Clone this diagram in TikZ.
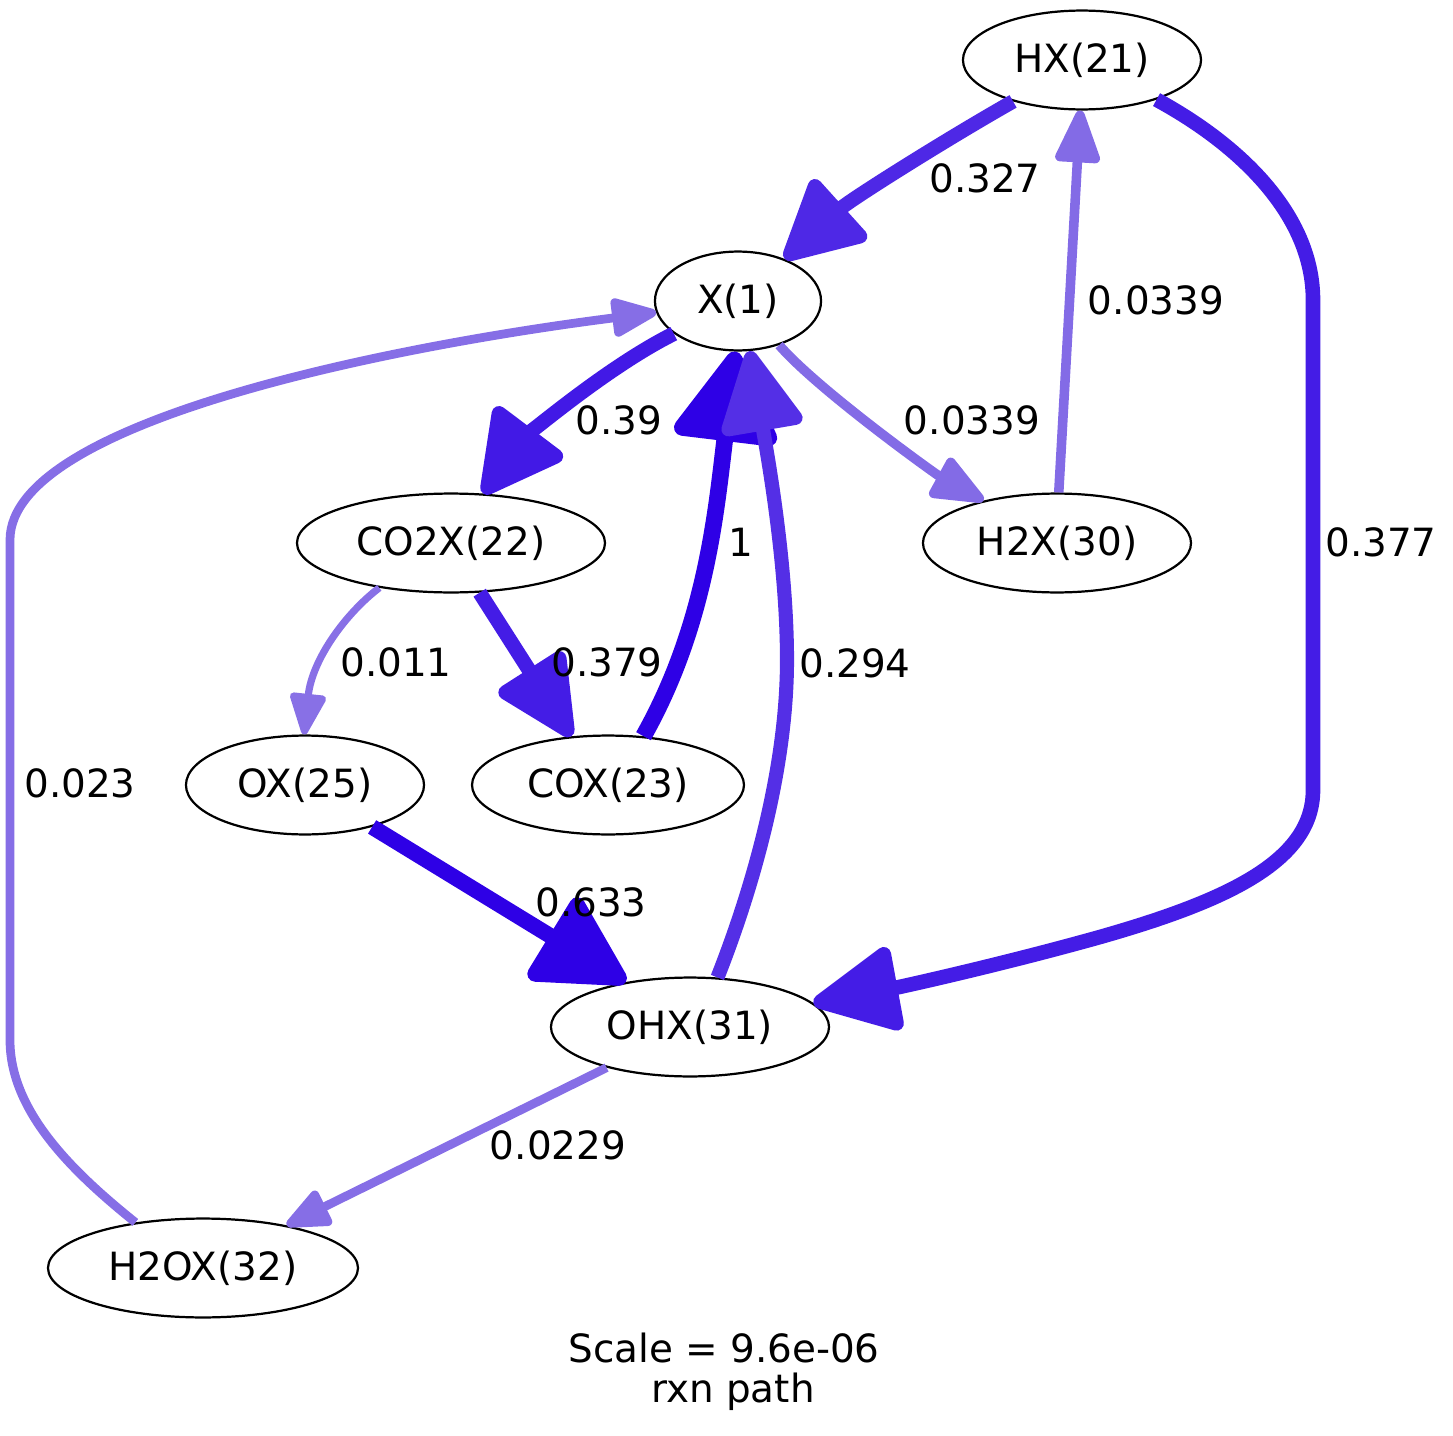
\documentclass[tikz,border=0pt]{standalone}
\usepackage{fontspec}
\setmainfont{DejaVu Sans}
\usetikzlibrary{arrows.meta,shapes.geometric}
\definecolor{cA}{HTML}{2E00E6}
\definecolor{cB}{HTML}{4219E6}
\definecolor{cC}{HTML}{441CE6}
\definecolor{cD}{HTML}{4E28E6}
\definecolor{cE}{HTML}{542FE6}
\definecolor{cF}{HTML}{836BE6}
\definecolor{cG}{HTML}{866EE6}
\definecolor{cH}{HTML}{8870E6}
\tikzset{
  sp/.style={draw=black, line width=0.8pt, ellipse, inner sep=0pt, minimum height=35.6pt},
  lbl/.style={inner sep=0pt, text=black},
  eOne/.style={draw=cA, line width=6pt, -{Triangle[length=35.5pt,width=40.3pt,round]}},
  eSix/.style={draw=cA, line width=5.655pt, -{Triangle[length=35.5pt,width=37pt,round]}},
  eThreeNine/.style={draw=cB, line width=5.289pt, -{Triangle[length=32.3pt,width=33pt,round]}},
  eThreeSevenSeven/.style={draw=cC, line width=5.264pt, -{Triangle[length=34.3pt,width=32.3pt,round]}},
  eThreeSevenNine/.style={draw=cC, line width=5.268pt, -{Triangle[length=32.3pt,width=29.8pt,round]}},
  eThreeTwoSeven/.style={draw=cD, line width=5.156pt, -{Triangle[length=31.4pt,width=31.4pt,round]}},
  eTwoNineFour/.style={draw=cE, line width=5.076pt, -{Triangle[length=32.3pt,width=31.4pt,round]}},
  eSmallA/.style={draw=cF, line width=3.445pt, -{Triangle[length=21.7pt,width=16.9pt,round]}},
  eSmallB/.style={draw=cG, line width=3.152pt, -{Triangle[length=18.6pt,width=14.6pt,round]}},
  eSmallC/.style={draw=cG, line width=3.148pt, -{Triangle[length=18.1pt,width=14.6pt,round]}},
  eSmallD/.style={draw=cH, line width=2.595pt, -{Triangle[length=16.8pt,width=13.7pt,round]}},
}
\begin{document}
\begin{tikzpicture}[x=0.36pt,y=-0.36pt, font=\fontsize{14pt}{16.8pt}\selectfont]
\useasboundingbox (0,0) rectangle (1453,1436);
% nodes
\node[sp, minimum width=85.7pt] (HX) at (1082,60) {HX(21)};
\node[sp, minimum width=59.8pt] (X) at (738,301) {X(1)};
\node[sp, minimum width=110.9pt] (CO2X) at (451,543) {CO2X(22)};
\node[sp, minimum width=96.5pt] (H2X) at (1057,543) {H2X(30)};
\node[sp, minimum width=85.7pt] (OX) at (305,785) {OX(25)};
\node[sp, minimum width=97.9pt] (COX) at (608,785) {COX(23)};
\node[sp, minimum width=100.1pt] (OHX) at (690,1027) {OHX(31)};
\node[sp, minimum width=111.6pt] (H2OX) at (203,1268) {H2OX(32)};
% edges
\draw[eOne] (COX.54) .. controls (706,625) and (716,512) .. (X.-93.6);
\draw[eTwoNineFour] (OHX.61) .. controls (752,890) and (787,770) .. (787,660) .. controls (787,560) and (766,447) .. (X.-77);
\draw[eThreeTwoSeven] (HX.211) .. controls (945,140) and (850,200) .. (X.42.9);
\draw[eThreeSevenSeven] (HX.-28.4) .. controls (1240,145) and (1313,215) .. (1313,300) -- (1313,790) .. controls (1313,860) and (1230,900) .. (1100,937) .. controls (1000,965) and (900,987) .. (OHX.11.5);
\draw[eSmallA] (H2X.88) -- (HX.-92.3);
\draw[eSmallA] (X.-47.6) .. controls (818,390) and (937,475) .. (H2X.150.3);
\draw[eThreeNine] (X.207) .. controls (605,368) and (525,438) .. (CO2X.57.8);
\draw[eThreeSevenNine] (CO2X.-60.9) -- (COX.127.5);
\draw[eSmallD] (CO2X.212.6) .. controls (345,614) and (312,660) .. (OX.91);
\draw[eSix] (OX.-32.7) -- (OHX.145.9);
\draw[eSmallC] (OHX.206.8) -- (H2OX.27.1);
\draw[eSmallB] (H2OX.146.9) .. controls (70,1170) and (10,1110) .. (10,1040) -- (10,540) .. controls (10,420) and (400,345) .. (X.188);
% labels
\node[lbl] (l327) at (985,178) {0.327};
\node[lbl] (l377) at (1381,542) {0.377};
\node[lbl] (l0339a) at (1156,300) {0.0339};
\node[lbl] (l0339b) at (972,420) {0.0339};
\node[lbl] (l39) at (619,420) {0.39};
\node[lbl] (l1) at (741,542) {1};
\node[lbl] (l294) at (855,663) {0.294};
\node[lbl] (l011) at (396,662) {0.011};
\node[lbl] (l379) at (607,662) {0.379};
\node[lbl] (l633) at (591,902) {0.633};
\node[lbl] (l023) at (80,783) {0.023};
\node[lbl] (l0229) at (558,1145) {0.0229};
\node[lbl, anchor=base] (scale) at (724,1362) {Scale = 9.6e-06};
\node[lbl, anchor=base] (rxn) at (733,1402) {rxn path};
\end{tikzpicture}
\end{document}
